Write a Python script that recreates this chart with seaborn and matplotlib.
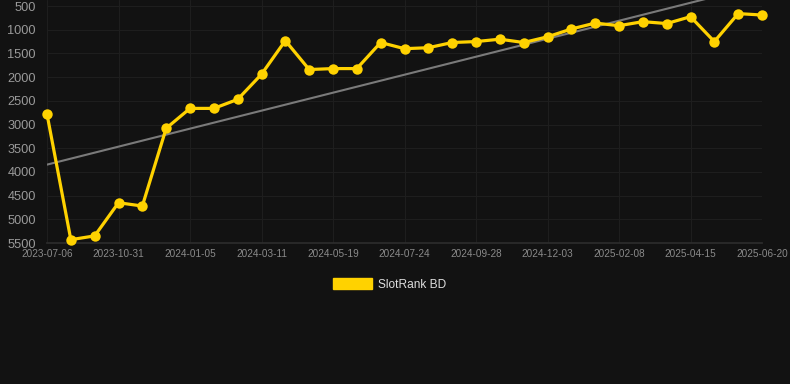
import numpy as np
import pandas as pd
import matplotlib
matplotlib.use("Agg")
import matplotlib.pyplot as plt
import matplotlib.patches as mpatches
import seaborn as sns

# dates of each sample (labels shown every 3rd)
dates = ["2023-07-06", "2023-08-14", "2023-09-22", "2023-10-31", "2023-11-22",
         "2023-12-14", "2024-01-05", "2024-01-27", "2024-02-18", "2024-03-11",
         "2024-04-03", "2024-04-26", "2024-05-19", "2024-06-10", "2024-07-02",
         "2024-07-24", "2024-08-15", "2024-09-06", "2024-09-28", "2024-10-20",
         "2024-11-11", "2024-12-03", "2024-12-25", "2025-01-17", "2025-02-08",
         "2025-03-02", "2025-03-24", "2025-04-15", "2025-05-07", "2025-05-29",
         "2025-06-20"]
ranks = [2780, 5430, 5350, 4650, 4720, 3080, 2660, 2660, 2470, 1940,
         1230, 1840, 1820, 1820, 1270, 1400, 1380, 1270, 1250, 1200,
         1270, 1150, 985, 860, 915, 830, 870, 725, 1250, 660,
         690]
yticks = [500, 1000, 1500, 2000, 2500, 3000, 3500, 4000, 4500, 5000, 5500]

bg = "#121212"
gold = "#FFD200"

df = pd.DataFrame({"date": dates, "rank": ranks})
df["pos"] = np.arange(len(df))

sns.set_theme(style="dark")
plt.rcParams["font.family"] = ["Liberation Sans", "DejaVu Sans"]

fig = plt.figure(figsize=(7.9, 3.84), dpi=100, facecolor=bg)
ax = fig.add_axes([47 / 790, 1 - 243 / 384, (762 - 47) / 790, 243 / 384])
ax.set_facecolor(bg)

# trend line (least squares)
k, b = np.polyfit(df["pos"], df["rank"], 1)
ax.plot(df["pos"], k * df["pos"] + b, color="#7a7a7a", lw=1.5, zorder=2)

sns.lineplot(data=df, x="pos", y="rank", ax=ax, color=gold, lw=2.3,
             marker="o", markersize=7.5, markeredgewidth=0, sort=False,
             zorder=3, clip_on=False)

ax.set_xlim(0, len(dates) - 1)
ax.set_ylim(5500, 373)
ax.set_yticks(yticks)
ax.set_yticklabels([str(v) for v in yticks], fontsize=9.2, color="#9a9a9a")
ax.set_xticks(df["pos"][::3])
ax.set_xticklabels(df["date"][::3], fontsize=7.2, color="#8a8a8a")
ax.tick_params(axis="both", length=0, pad=4)
ax.tick_params(axis="y", pad=8)
ax.grid(True, color="#1e1e1e", lw=0.8)
ax.set_xlabel("")
ax.set_ylabel("")
for side in ["top", "right", "left"]:
    ax.spines[side].set_visible(False)
ax.spines["bottom"].set_color("#2c2c2c")

handle = mpatches.Patch(color=gold, label="SlotRank BD")
leg = fig.legend(handles=[handle], loc="center", bbox_to_anchor=(0.493, 1 - 284.5 / 384),
                 frameon=False, fontsize=8.6, handlelength=3.3, handleheight=1.0,
                 handletextpad=0.45)
for t in leg.get_texts():
    t.set_color("#dddddd")

fig.savefig("out.png", dpi=100, facecolor=bg)
